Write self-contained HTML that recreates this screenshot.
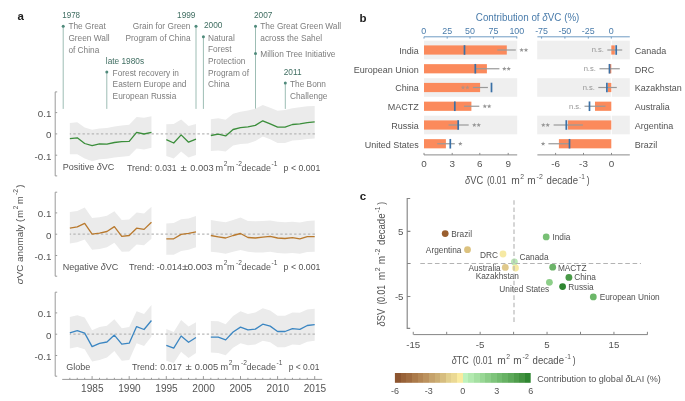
<!DOCTYPE html>
<html><head><meta charset="utf-8"><style>
html,body{margin:0;padding:0;background:#fff;overflow:hidden;}
svg{display:block;font-family:"Liberation Sans", sans-serif;will-change:transform;}
</style></head><body>
<svg width="685" height="401" viewBox="0 0 685 401">
<rect width="685" height="401" fill="#fff"/>
<text x="17.6" y="20.4" font-size="11.5" fill="#222" font-weight="bold">a</text>
<line x1="63.2" y1="26.2" x2="63.2" y2="108.9" stroke="#9dbdb4" stroke-width="1"/>
<circle cx="63.2" cy="26.2" r="1.5" fill="#4f8a7b"/>
<line x1="106.8" y1="72.1" x2="106.8" y2="108.9" stroke="#9dbdb4" stroke-width="1"/>
<circle cx="106.8" cy="72.1" r="1.5" fill="#4f8a7b"/>
<line x1="196.0" y1="26.3" x2="196.0" y2="108.9" stroke="#9dbdb4" stroke-width="1"/>
<circle cx="196.0" cy="26.3" r="1.5" fill="#4f8a7b"/>
<line x1="203.4" y1="36.8" x2="203.4" y2="108.9" stroke="#9dbdb4" stroke-width="1"/>
<circle cx="203.4" cy="36.8" r="1.5" fill="#4f8a7b"/>
<line x1="255.5" y1="26.3" x2="255.5" y2="108.9" stroke="#9dbdb4" stroke-width="1"/>
<circle cx="255.5" cy="26.3" r="1.5" fill="#4f8a7b"/>
<line x1="285.3" y1="82.9" x2="285.3" y2="108.9" stroke="#9dbdb4" stroke-width="1"/>
<circle cx="285.3" cy="82.9" r="1.5" fill="#4f8a7b"/>
<circle cx="255.5" cy="53.4" r="1.5" fill="#4f8a7b"/>
<text x="62.2" y="17.7" font-size="8.3" fill="#3f6d61" textLength="17.9" lengthAdjust="spacingAndGlyphs">1978</text>
<text x="68.4" y="29.4" font-size="8.3" fill="#7d7d7d">The Great</text>
<text x="68.4" y="41.1" font-size="8.3" fill="#7d7d7d">Green Wall</text>
<text x="68.4" y="52.8" font-size="8.3" fill="#7d7d7d">of China</text>
<text x="105.8" y="64.2" font-size="8.3" fill="#3f6d61">late 1980s</text>
<text x="112.6" y="75.7" font-size="8.3" fill="#7d7d7d">Forest recovery in</text>
<text x="112.6" y="87.4" font-size="8.3" fill="#7d7d7d">Eastern Europe and</text>
<text x="112.6" y="99.1" font-size="8.3" fill="#7d7d7d">European Russia</text>
<text x="195.5" y="17.7" font-size="8.3" fill="#3f6d61" text-anchor="end">1999</text>
<text x="190.5" y="29.4" font-size="8.3" fill="#7d7d7d" text-anchor="end">Grain for Green</text>
<text x="190.5" y="41.1" font-size="8.3" fill="#7d7d7d" text-anchor="end">Program of China</text>
<text x="204" y="28.2" font-size="8.3" fill="#3f6d61">2000</text>
<text x="208" y="40.5" font-size="8.3" fill="#7d7d7d">Natural</text>
<text x="208" y="52.2" font-size="8.3" fill="#7d7d7d">Forest</text>
<text x="208" y="63.9" font-size="8.3" fill="#7d7d7d">Protection</text>
<text x="208" y="75.6" font-size="8.3" fill="#7d7d7d">Program of</text>
<text x="208" y="87.3" font-size="8.3" fill="#7d7d7d">China</text>
<text x="254" y="17.7" font-size="8.3" fill="#3f6d61">2007</text>
<text x="260.3" y="29.4" font-size="8.3" fill="#7d7d7d">The Great Green Wall</text>
<text x="260.3" y="41.1" font-size="8.3" fill="#7d7d7d">across the Sahel</text>
<text x="260.3" y="56.9" font-size="8.3" fill="#7d7d7d">Million Tree Initiative</text>
<text x="283.7" y="74.7" font-size="8.3" fill="#3f6d61">2011</text>
<text x="290" y="86.8" font-size="8.3" fill="#7d7d7d">The Bonn</text>
<text x="290" y="98.5" font-size="8.3" fill="#7d7d7d">Challenge</text>
<polygon points="69.84,123 77.26,122.2 84.68,127.6 92.1,129.7 99.52,128.4 106.94,127.9 114.36,126.4 121.78,125.6 129.2,124.8 136.62,117 144.04,117.8 151.46,116.2 151.46,147.8 144.04,149.5 136.62,148.6 129.2,156 121.78,156.8 114.36,157.6 106.94,158.7 99.52,159.2 92.1,161.3 84.68,158.4 77.26,154.3 69.84,154.3" fill="#ebebeb"/>
<polygon points="166.3,124.3 173.72,124 181.14,119.5 188.56,126 195.98,124 195.98,155.1 188.56,157.6 181.14,151.6 173.72,158.4 166.3,155.9" fill="#ebebeb"/>
<polygon points="210.82,119.2 218.24,118.3 225.66,119.8 233.08,113.8 240.5,111.7 247.92,110.6 255.34,108.7 262.76,104.9 270.18,107.7 277.6,110.7 285.02,110.1 292.44,108.2 299.86,107.3 307.28,106.3 314.7,105.9 314.7,138.4 307.28,139.1 299.86,139.9 292.44,140.6 285.02,142.9 277.6,142.9 270.18,139.3 262.76,136.6 255.34,141.1 247.92,143.4 240.5,144.1 233.08,145.6 225.66,151.6 218.24,150.6 210.82,150.9" fill="#ebebeb"/>
<line x1="69.8" y1="133.9" x2="315.5" y2="133.9" stroke="#b8b8b8" stroke-width="1.2" stroke-dasharray="2.4 2.2" stroke-dashoffset="1.1"/>
<polyline points="69.84,138.6 77.26,137.8 84.68,143.5 92.1,145.7 99.52,143.8 106.94,144.1 114.36,142.5 121.78,141.7 129.2,141.3 136.62,132.4 144.04,134 151.46,132.4" fill="none" stroke="#3b8e3b" stroke-width="1.3" stroke-linejoin="round"/>
<polyline points="166.3,139.7 173.72,143 181.14,134.9 188.56,142.2 195.98,139.2" fill="none" stroke="#3b8e3b" stroke-width="1.3" stroke-linejoin="round"/>
<polyline points="210.82,135.5 218.24,134.1 225.66,135.9 233.08,129.5 240.5,127.7 247.92,126.9 255.34,125.4 262.76,120.8 270.18,123.9 277.6,127.2 285.02,127.2 292.44,124.5 299.86,123.9 307.28,122.7 314.7,121.9" fill="none" stroke="#3b8e3b" stroke-width="1.3" stroke-linejoin="round"/>
<path d="M57.2,91.9 H55.2 V175.9 H57.2 M55.2,112.6 H57.2 M55.2,133.9 H57.2 M55.2,155.2 H57.2" fill="none" stroke="#9a9a9a" stroke-width="1"/>
<text x="51.4" y="117" font-size="9.8" fill="#535353" text-anchor="end">0.1</text>
<text x="51.4" y="138.3" font-size="9.8" fill="#535353" text-anchor="end">0</text>
<text x="51.4" y="159.6" font-size="9.8" fill="#535353" text-anchor="end">-0.1</text>
<polygon points="69.84,212 77.26,210.9 84.68,207.6 92.1,218 99.52,217.2 106.94,215.8 114.36,211.2 121.78,220.1 129.2,219.6 136.62,212.4 144.04,213.6 151.46,206.7 151.46,238.8 144.04,245.3 136.62,244.5 129.2,251.4 121.78,251.8 114.36,242.8 106.94,247.2 99.52,249 92.1,249.8 84.68,239.6 77.26,242.3 69.84,243.6" fill="#ebebeb"/>
<polygon points="166.3,223.4 173.72,222.9 181.14,219.3 188.56,218.5 195.98,216.1 195.98,247.2 188.56,249.8 181.14,250.9 173.72,254.7 166.3,254.7" fill="#ebebeb"/>
<polygon points="210.82,220.1 218.24,221.3 225.66,222.2 233.08,220.1 240.5,217.5 247.92,220.9 255.34,221.3 262.76,220.9 270.18,220.5 277.6,221.8 285.02,222.2 292.44,221.8 299.86,222.6 307.28,220.9 314.7,220.6 314.7,251.8 307.28,252.1 299.86,253.7 292.44,253 285.02,253.4 277.6,253 270.18,251.8 262.76,252.6 255.34,252.6 247.92,251.8 240.5,250 233.08,251.8 225.66,253.7 218.24,252.6 210.82,251.8" fill="#ebebeb"/>
<line x1="69.8" y1="234.2" x2="315.5" y2="234.2" stroke="#b8b8b8" stroke-width="1.2" stroke-dasharray="2.4 2.2" stroke-dashoffset="1.1"/>
<polyline points="69.84,228.2 77.26,226.9 84.68,223.4 92.1,234.2 99.52,233.1 106.94,231.5 114.36,226.6 121.78,236.3 129.2,235.5 136.62,228.2 144.04,229.4 151.46,222.2" fill="none" stroke="#b9792d" stroke-width="1.3" stroke-linejoin="round"/>
<polyline points="166.3,238.8 173.72,238.8 181.14,234.4 188.56,233.4 195.98,231.8" fill="none" stroke="#b9792d" stroke-width="1.3" stroke-linejoin="round"/>
<polyline points="210.82,235.5 218.24,236.8 225.66,238 233.08,235.5 240.5,233.5 247.92,237.5 255.34,238 262.76,237.2 270.18,236.3 277.6,238 285.02,238.5 292.44,237.6 299.86,238.8 307.28,236.7 314.7,236.7" fill="none" stroke="#b9792d" stroke-width="1.3" stroke-linejoin="round"/>
<path d="M57.2,192.2 H55.2 V276.2 H57.2 M55.2,212.9 H57.2 M55.2,234.2 H57.2 M55.2,255.5 H57.2" fill="none" stroke="#9a9a9a" stroke-width="1"/>
<text x="51.4" y="217.3" font-size="9.8" fill="#535353" text-anchor="end">0.1</text>
<text x="51.4" y="238.6" font-size="9.8" fill="#535353" text-anchor="end">0</text>
<text x="51.4" y="259.9" font-size="9.8" fill="#535353" text-anchor="end">-0.1</text>
<polygon points="69.84,316.9 77.26,315.3 84.68,317.4 92.1,330.3 99.52,327.1 106.94,325.8 114.36,319.3 121.78,328.2 129.2,327.1 136.62,311.2 144.04,314.1 151.46,305.1 151.46,336.4 144.04,346.1 136.62,343.3 129.2,359.9 121.78,360.7 114.36,350.9 106.94,357.4 99.52,359.9 92.1,361.5 84.68,349.3 77.26,346.9 69.84,348.5" fill="#ebebeb"/>
<polygon points="166.3,329 173.72,332 181.14,320.1 188.56,326.6 195.98,322.2 195.98,353 188.56,357.9 181.14,351.8 173.72,363.1 166.3,360.7" fill="#ebebeb"/>
<polygon points="210.82,321 218.24,321.3 225.66,324.2 233.08,316.1 240.5,311.2 247.92,314.1 255.34,312.5 262.76,308.3 270.18,310.4 277.6,315.8 285.02,315.8 292.44,312.5 299.86,312.8 307.28,309.6 314.7,308.8 314.7,340.7 307.28,341.7 299.86,344.9 292.44,344.5 285.02,347.2 277.6,347.2 270.18,342.3 262.76,340.7 255.34,344.5 247.92,345.3 240.5,343.3 233.08,347.7 225.66,355.3 218.24,353 210.82,352.6" fill="#ebebeb"/>
<line x1="69.8" y1="334.2" x2="315.5" y2="334.2" stroke="#b8b8b8" stroke-width="1.2" stroke-dasharray="2.4 2.2" stroke-dashoffset="1.1"/>
<polyline points="69.84,332.8 77.26,330.7 84.68,333.1 92.1,346.6 99.52,343.3 106.94,342 114.36,335.1 121.78,344.1 129.2,343.2 136.62,326.6 144.04,329.5 151.46,320.5" fill="none" stroke="#3b86c2" stroke-width="1.3" stroke-linejoin="round"/>
<polyline points="166.3,345.3 173.72,348.2 181.14,336 188.56,342.3 195.98,337.5" fill="none" stroke="#3b86c2" stroke-width="1.3" stroke-linejoin="round"/>
<polyline points="210.82,337.2 218.24,337.2 225.66,339.9 233.08,332 240.5,327.1 247.92,329.9 255.34,329.1 262.76,324.2 270.18,326.1 277.6,331.5 285.02,331.5 292.44,328.6 299.86,329.4 307.28,325.5 314.7,324.7" fill="none" stroke="#3b86c2" stroke-width="1.3" stroke-linejoin="round"/>
<path d="M57.2,292.2 H55.2 V376.2 H57.2 M55.2,312.9 H57.2 M55.2,334.2 H57.2 M55.2,355.5 H57.2" fill="none" stroke="#9a9a9a" stroke-width="1"/>
<text x="51.4" y="317.3" font-size="9.8" fill="#535353" text-anchor="end">0.1</text>
<text x="51.4" y="338.6" font-size="9.8" fill="#535353" text-anchor="end">0</text>
<text x="51.4" y="359.9" font-size="9.8" fill="#535353" text-anchor="end">-0.1</text>
<text x="62.8" y="170.2" font-size="9" fill="#535353">Positive <tspan font-style="italic">δ</tspan>VC</text>
<text x="126.9" y="170.5" font-size="9.2" fill="#535353" textLength="25.3" lengthAdjust="spacingAndGlyphs">Trend:</text>
<text x="155" y="170.5" font-size="9.2" fill="#535353" textLength="21.4" lengthAdjust="spacingAndGlyphs">0.031</text>
<text x="180.5" y="170.5" font-size="9.2" fill="#535353" textLength="6.2" lengthAdjust="spacingAndGlyphs">±</text>
<text x="190.2" y="170.5" font-size="9.2" fill="#535353" textLength="23.4" lengthAdjust="spacingAndGlyphs">0.003</text>
<text x="215.6" y="170.5" font-size="9.2" fill="#535353" textLength="7.6" lengthAdjust="spacingAndGlyphs">m</text>
<text x="223.8" y="165.5" font-size="6.6" fill="#535353">2</text>
<text x="226.9" y="170.5" font-size="9.2" fill="#535353" textLength="7.6" lengthAdjust="spacingAndGlyphs">m</text>
<text x="236.1" y="165.5" font-size="6.6" fill="#535353">-2</text>
<text x="241.5" y="170.5" font-size="9.2" fill="#535353" textLength="29.4" lengthAdjust="spacingAndGlyphs">decade</text>
<text x="271.6" y="165.5" font-size="6.6" fill="#535353">-1</text>
<text x="283.6" y="170.5" font-size="9.2" fill="#535353" textLength="36.7" lengthAdjust="spacingAndGlyphs">p &lt; 0.001</text>
<text x="62.7" y="270.3" font-size="9" fill="#535353">Negative <tspan font-style="italic">δ</tspan>VC</text>
<text x="128.9" y="270.4" font-size="9.2" fill="#535353" textLength="25.3" lengthAdjust="spacingAndGlyphs">Trend:</text>
<text x="156.8" y="270.4" font-size="9.2" fill="#535353" textLength="25" lengthAdjust="spacingAndGlyphs">-0.014</text>
<text x="182" y="270.4" font-size="9.2" fill="#535353" textLength="6.2" lengthAdjust="spacingAndGlyphs">±</text>
<text x="187.4" y="270.4" font-size="9.2" fill="#535353" textLength="25" lengthAdjust="spacingAndGlyphs">0.003</text>
<text x="215.6" y="270.4" font-size="9.2" fill="#535353" textLength="7.6" lengthAdjust="spacingAndGlyphs">m</text>
<text x="223.8" y="265.4" font-size="6.6" fill="#535353">2</text>
<text x="226.9" y="270.4" font-size="9.2" fill="#535353" textLength="7.6" lengthAdjust="spacingAndGlyphs">m</text>
<text x="236.1" y="265.4" font-size="6.6" fill="#535353">-2</text>
<text x="241.5" y="270.4" font-size="9.2" fill="#535353" textLength="29.4" lengthAdjust="spacingAndGlyphs">decade</text>
<text x="271.6" y="265.4" font-size="6.6" fill="#535353">-1</text>
<text x="283.6" y="270.4" font-size="9.2" fill="#535353" textLength="36.8" lengthAdjust="spacingAndGlyphs">p &lt; 0.001</text>
<text x="66.3" y="370.2" font-size="9" fill="#535353">Globe</text>
<text x="131.9" y="370.4" font-size="9.2" fill="#535353" textLength="25.3" lengthAdjust="spacingAndGlyphs">Trend:</text>
<text x="160.3" y="370.4" font-size="9.2" fill="#535353" textLength="21.6" lengthAdjust="spacingAndGlyphs">0.017</text>
<text x="185.5" y="370.4" font-size="9.2" fill="#535353" textLength="6.2" lengthAdjust="spacingAndGlyphs">±</text>
<text x="194.7" y="370.4" font-size="9.2" fill="#535353" textLength="23.4" lengthAdjust="spacingAndGlyphs">0.005</text>
<text x="220.6" y="370.4" font-size="9.2" fill="#535353" textLength="7.6" lengthAdjust="spacingAndGlyphs">m</text>
<text x="228.8" y="365.4" font-size="6.6" fill="#535353">2</text>
<text x="231.9" y="370.4" font-size="9.2" fill="#535353" textLength="7.6" lengthAdjust="spacingAndGlyphs">m</text>
<text x="241.1" y="365.4" font-size="6.6" fill="#535353">-2</text>
<text x="246.5" y="370.4" font-size="9.2" fill="#535353" textLength="29.4" lengthAdjust="spacingAndGlyphs">decade</text>
<text x="276.6" y="365.4" font-size="6.6" fill="#535353">-1</text>
<text x="288.7" y="370.4" font-size="9.2" fill="#535353" textLength="30.8" lengthAdjust="spacingAndGlyphs">p &lt; 0.01</text>
<path d="M62.2,379.4 H322.2 M69.84,379.4 V377.8 M77.26,379.4 V377.8 M84.68,379.4 V377.8 M92.1,379.4 V376.1 M99.52,379.4 V377.8 M106.94,379.4 V377.8 M114.36,379.4 V377.8 M121.78,379.4 V377.8 M129.2,379.4 V376.1 M136.62,379.4 V377.8 M144.04,379.4 V377.8 M151.46,379.4 V377.8 M158.88,379.4 V377.8 M166.3,379.4 V376.1 M173.72,379.4 V377.8 M181.14,379.4 V377.8 M188.56,379.4 V377.8 M195.98,379.4 V377.8 M203.4,379.4 V376.1 M210.82,379.4 V377.8 M218.24,379.4 V377.8 M225.66,379.4 V377.8 M233.08,379.4 V377.8 M240.5,379.4 V376.1 M247.92,379.4 V377.8 M255.34,379.4 V377.8 M262.76,379.4 V377.8 M270.18,379.4 V377.8 M277.6,379.4 V376.1 M285.02,379.4 V377.8 M292.44,379.4 V377.8 M299.86,379.4 V377.8 M307.28,379.4 V377.8 M314.7,379.4 V376.1" fill="none" stroke="#9a9a9a" stroke-width="1"/>
<text x="92.3" y="391.7" font-size="10.1" fill="#535353" text-anchor="middle">1985</text>
<text x="129.4" y="391.7" font-size="10.1" fill="#535353" text-anchor="middle">1990</text>
<text x="166.5" y="391.7" font-size="10.1" fill="#535353" text-anchor="middle">1995</text>
<text x="203.6" y="391.7" font-size="10.1" fill="#535353" text-anchor="middle">2000</text>
<text x="240.7" y="391.7" font-size="10.1" fill="#535353" text-anchor="middle">2005</text>
<text x="277.8" y="391.7" font-size="10.1" fill="#535353" text-anchor="middle">2010</text>
<text x="314.9" y="391.7" font-size="10.1" fill="#535353" text-anchor="middle">2015</text>
<g transform="translate(23.2,284.3) rotate(-90)"><text x="0" y="0" font-size="9.8" fill="#535353" textLength="59.6" lengthAdjust="spacingAndGlyphs"><tspan font-style="italic">σ</tspan>VC anomaly</text><text x="62.3" y="0" font-size="9.8" fill="#535353" textLength="3.2" lengthAdjust="spacingAndGlyphs">(</text><text x="66.6" y="0" font-size="9.8" fill="#535353" textLength="7.6" lengthAdjust="spacingAndGlyphs">m</text><text x="75.1" y="-4.8" font-size="6.6" fill="#535353" textLength="3.6" lengthAdjust="spacingAndGlyphs">2</text><text x="80.3" y="0" font-size="9.8" fill="#535353" textLength="7.6" lengthAdjust="spacingAndGlyphs">m</text><text x="89.2" y="-4.8" font-size="6.6" fill="#535353" textLength="6" lengthAdjust="spacingAndGlyphs">-2</text><text x="96.6" y="0" font-size="9.8" fill="#535353" textLength="3.2" lengthAdjust="spacingAndGlyphs">)</text></g>
<text x="359.4" y="21.6" font-size="11.5" fill="#222" font-weight="bold">b</text>
<rect x="424" y="40.7" width="93.2" height="18.6" fill="#efefef"/>
<rect x="537.2" y="40.7" width="92.6" height="18.6" fill="#efefef"/>
<rect x="424" y="78.2" width="93.2" height="18.6" fill="#efefef"/>
<rect x="537.2" y="78.2" width="92.6" height="18.6" fill="#efefef"/>
<rect x="424" y="115.7" width="93.2" height="18.6" fill="#efefef"/>
<rect x="537.2" y="115.7" width="92.6" height="18.6" fill="#efefef"/>
<line x1="611.3" y1="40" x2="611.3" y2="153" stroke="#fff" stroke-width="1"/>
<rect x="424" y="45.4" width="82.8" height="9.2" fill="#fb8a5c"/>
<line x1="497.3" y1="50" x2="515.8" y2="50" stroke="#999999" stroke-width="1.2"/>
<line x1="464.5" y1="45.2" x2="464.5" y2="54.8" stroke="#3a70a6" stroke-width="1.7"/>
<text x="418.8" y="53.9" font-size="9.7" fill="#535353" text-anchor="end" textLength="19.52" lengthAdjust="spacingAndGlyphs">India</text>
<polygon points="521.6,47.75 522.19,49.29 523.83,49.37 522.55,50.41 522.98,52 521.6,51.1 520.22,52 520.65,50.41 519.37,49.37 521.01,49.29" fill="#959595"/>
<polygon points="526,47.75 526.59,49.29 528.23,49.37 526.95,50.41 527.38,52 526,51.1 524.62,52 525.05,50.41 523.77,49.37 525.41,49.29" fill="#959595"/>
<rect x="424" y="64.15" width="62.9" height="9.2" fill="#fb8a5c"/>
<line x1="475.3" y1="68.75" x2="499.4" y2="68.75" stroke="#999999" stroke-width="1.2"/>
<line x1="475.3" y1="63.95" x2="475.3" y2="73.55" stroke="#3a70a6" stroke-width="1.7"/>
<text x="418.8" y="72.65" font-size="9.7" fill="#535353" text-anchor="end" textLength="65.05" lengthAdjust="spacingAndGlyphs">European Union</text>
<polygon points="504.3,66.5 504.89,68.04 506.53,68.12 505.25,69.16 505.68,70.75 504.3,69.85 502.92,70.75 503.35,69.16 502.07,68.12 503.71,68.04" fill="#959595"/>
<polygon points="508.7,66.5 509.29,68.04 510.93,68.12 509.65,69.16 510.08,70.75 508.7,69.85 507.32,70.75 507.75,69.16 506.47,68.12 508.11,68.04" fill="#959595"/>
<rect x="424" y="82.9" width="56.1" height="9.2" fill="#fb8a5c"/>
<line x1="472.9" y1="87.5" x2="487.9" y2="87.5" stroke="#999999" stroke-width="1.2"/>
<line x1="491.5" y1="82.7" x2="491.5" y2="92.3" stroke="#3a70a6" stroke-width="1.7"/>
<text x="418.8" y="91.4" font-size="9.7" fill="#535353" text-anchor="end" textLength="23.52" lengthAdjust="spacingAndGlyphs">China</text>
<polygon points="463,85.25 463.59,86.79 465.23,86.87 463.95,87.91 464.38,89.5 463,88.6 461.62,89.5 462.05,87.91 460.77,86.87 462.41,86.79" fill="#b99080"/>
<polygon points="467.4,85.25 467.99,86.79 469.63,86.87 468.35,87.91 468.78,89.5 467.4,88.6 466.02,89.5 466.45,87.91 465.17,86.87 466.81,86.79" fill="#b99080"/>
<rect x="424" y="101.65" width="47.4" height="9.2" fill="#fb8a5c"/>
<line x1="464.0" y1="106.25" x2="479.3" y2="106.25" stroke="#999999" stroke-width="1.2"/>
<line x1="454.8" y1="101.45" x2="454.8" y2="111.05" stroke="#3a70a6" stroke-width="1.7"/>
<text x="418.8" y="110.15" font-size="9.7" fill="#535353" text-anchor="end" textLength="30.99" lengthAdjust="spacingAndGlyphs">MACTZ</text>
<polygon points="484.8,104 485.39,105.54 487.03,105.62 485.75,106.66 486.18,108.25 484.8,107.35 483.42,108.25 483.85,106.66 482.57,105.62 484.21,105.54" fill="#959595"/>
<polygon points="489.2,104 489.79,105.54 491.43,105.62 490.15,106.66 490.58,108.25 489.2,107.35 487.82,108.25 488.25,106.66 486.97,105.62 488.61,105.54" fill="#959595"/>
<rect x="424" y="120.4" width="34.2" height="9.2" fill="#fb8a5c"/>
<line x1="448.5" y1="125" x2="468.7" y2="125" stroke="#999999" stroke-width="1.2"/>
<line x1="458.2" y1="120.2" x2="458.2" y2="129.8" stroke="#3a70a6" stroke-width="1.7"/>
<text x="418.8" y="128.9" font-size="9.7" fill="#535353" text-anchor="end" textLength="27.51" lengthAdjust="spacingAndGlyphs">Russia</text>
<polygon points="474.3,122.75 474.89,124.29 476.53,124.37 475.25,125.41 475.68,127 474.3,126.1 472.92,127 473.35,125.41 472.07,124.37 473.71,124.29" fill="#959595"/>
<polygon points="478.7,122.75 479.29,124.29 480.93,124.37 479.65,125.41 480.08,127 478.7,126.1 477.32,127 477.75,125.41 476.47,124.37 478.11,124.29" fill="#959595"/>
<rect x="424" y="139.15" width="21.9" height="9.2" fill="#fb8a5c"/>
<line x1="437.2" y1="143.75" x2="454.8" y2="143.75" stroke="#999999" stroke-width="1.2"/>
<line x1="450.3" y1="138.95" x2="450.3" y2="148.55" stroke="#3a70a6" stroke-width="1.7"/>
<text x="418.8" y="147.65" font-size="9.7" fill="#535353" text-anchor="end" textLength="54.03" lengthAdjust="spacingAndGlyphs">United States</text>
<polygon points="460.3,141.5 460.89,143.04 462.53,143.12 461.25,144.16 461.68,145.75 460.3,144.85 458.92,145.75 459.35,144.16 458.07,143.12 459.71,143.04" fill="#959595"/>
<rect x="611.3" y="45.4" width="3.5" height="9.2" fill="#fb8a5c"/>
<line x1="607.3" y1="50" x2="622.2" y2="50" stroke="#999999" stroke-width="1.2"/>
<line x1="616.2" y1="45.2" x2="616.2" y2="54.8" stroke="#3a70a6" stroke-width="1.7"/>
<text x="634.8" y="53.9" font-size="9.7" fill="#535353" textLength="31.53" lengthAdjust="spacingAndGlyphs">Canada</text>
<text x="603.9" y="52.4" font-size="7.6" fill="#959595" text-anchor="end">n.s.</text>
<rect x="608.9" y="64.15" width="2.4" height="9.2" fill="#fb8a5c"/>
<line x1="599.5" y1="68.75" x2="619.8" y2="68.75" stroke="#999999" stroke-width="1.2"/>
<line x1="609.5" y1="63.95" x2="609.5" y2="73.55" stroke="#3a70a6" stroke-width="1.7"/>
<text x="634.8" y="72.65" font-size="9.7" fill="#535353" textLength="19.5" lengthAdjust="spacingAndGlyphs">DRC</text>
<text x="595.9" y="71.15" font-size="7.6" fill="#959595" text-anchor="end">n.s.</text>
<rect x="607.9" y="82.9" width="3.4" height="9.2" fill="#fb8a5c"/>
<line x1="598.3" y1="87.5" x2="616.8" y2="87.5" stroke="#999999" stroke-width="1.2"/>
<line x1="606.9" y1="82.7" x2="606.9" y2="92.3" stroke="#3a70a6" stroke-width="1.7"/>
<text x="634.8" y="91.4" font-size="9.7" fill="#535353" textLength="47.03" lengthAdjust="spacingAndGlyphs">Kazakhstan</text>
<text x="594.9" y="89.9" font-size="7.6" fill="#959595" text-anchor="end">n.s.</text>
<rect x="595" y="101.65" width="16.3" height="9.2" fill="#fb8a5c"/>
<line x1="584.5" y1="106.25" x2="605.5" y2="106.25" stroke="#999999" stroke-width="1.2"/>
<line x1="589.5" y1="101.45" x2="589.5" y2="111.05" stroke="#3a70a6" stroke-width="1.7"/>
<text x="634.8" y="110.15" font-size="9.7" fill="#535353" textLength="35.02" lengthAdjust="spacingAndGlyphs">Australia</text>
<text x="581.2" y="108.65" font-size="7.6" fill="#959595" text-anchor="end">n.s.</text>
<rect x="567.9" y="120.4" width="43.4" height="9.2" fill="#fb8a5c"/>
<line x1="553.6" y1="125" x2="582.9" y2="125" stroke="#999999" stroke-width="1.2"/>
<line x1="566.3" y1="120.2" x2="566.3" y2="129.8" stroke="#3a70a6" stroke-width="1.7"/>
<text x="634.8" y="128.9" font-size="9.7" fill="#535353" textLength="38.53" lengthAdjust="spacingAndGlyphs">Argentina</text>
<polygon points="543.3,122.75 543.89,124.29 545.53,124.37 544.25,125.41 544.68,127 543.3,126.1 541.92,127 542.35,125.41 541.07,124.37 542.71,124.29" fill="#959595"/>
<polygon points="547.7,122.75 548.29,124.29 549.93,124.37 548.65,125.41 549.08,127 547.7,126.1 546.32,127 546.75,125.41 545.47,124.37 547.11,124.29" fill="#959595"/>
<rect x="558.9" y="139.15" width="52.4" height="9.2" fill="#fb8a5c"/>
<line x1="548.4" y1="143.75" x2="569.5" y2="143.75" stroke="#999999" stroke-width="1.2"/>
<line x1="569.5" y1="138.95" x2="569.5" y2="148.55" stroke="#3a70a6" stroke-width="1.7"/>
<text x="634.8" y="147.65" font-size="9.7" fill="#535353" textLength="22.5" lengthAdjust="spacingAndGlyphs">Brazil</text>
<polygon points="543.1,141.5 543.69,143.04 545.33,143.12 544.05,144.16 544.48,145.75 543.1,144.85 541.72,145.75 542.15,144.16 540.87,143.12 542.51,143.04" fill="#959595"/>
<path d="M424,38.6 V36.8 H517.2 M447.2,36.8 V38.6 M470,36.8 V38.6 M493.4,36.8 V38.6 M516.8,36.8 V38.6" fill="none" stroke="#6f9cc4" stroke-width="1"/>
<path d="M537.4,36.8 H629.8 M541.6,36.8 V38.6 M564.9,36.8 V38.6 M588.3,36.8 V38.6 M611.3,36.8 V38.6" fill="none" stroke="#6f9cc4" stroke-width="1"/>
<text x="423.8" y="33.9" font-size="9.8" fill="#4a7cab" text-anchor="middle" textLength="4.95" lengthAdjust="spacingAndGlyphs">0</text>
<text x="447.2" y="33.9" font-size="9.8" fill="#4a7cab" text-anchor="middle" textLength="9.9" lengthAdjust="spacingAndGlyphs">25</text>
<text x="470" y="33.9" font-size="9.8" fill="#4a7cab" text-anchor="middle" textLength="9.9" lengthAdjust="spacingAndGlyphs">50</text>
<text x="493.4" y="33.9" font-size="9.8" fill="#4a7cab" text-anchor="middle" textLength="9.9" lengthAdjust="spacingAndGlyphs">75</text>
<text x="516.8" y="33.9" font-size="9.8" fill="#4a7cab" text-anchor="middle" textLength="14.85" lengthAdjust="spacingAndGlyphs">100</text>
<text x="541.6" y="33.9" font-size="9.8" fill="#4a7cab" text-anchor="middle" textLength="12.86" lengthAdjust="spacingAndGlyphs">-75</text>
<text x="564.9" y="33.9" font-size="9.8" fill="#4a7cab" text-anchor="middle" textLength="12.86" lengthAdjust="spacingAndGlyphs">-50</text>
<text x="588.3" y="33.9" font-size="9.8" fill="#4a7cab" text-anchor="middle" textLength="12.86" lengthAdjust="spacingAndGlyphs">-25</text>
<text x="611.3" y="33.9" font-size="9.8" fill="#4a7cab" text-anchor="middle" textLength="4.95" lengthAdjust="spacingAndGlyphs">0</text>
<text x="475.8" y="20.6" font-size="10.4" fill="#4a7cab" textLength="103.6" lengthAdjust="spacingAndGlyphs">Contribution of <tspan font-style="italic">δ</tspan>VC (%)</text>
<path d="M424,152.9 V154.9 H517.2 M452.2,154.9 V152.9 M479.8,154.9 V152.9 M508.2,154.9 V152.9" fill="none" stroke="#8a8a8a" stroke-width="1"/>
<path d="M537.4,154.9 H629.8 M555.6,154.9 V152.9 M583.5,154.9 V152.9 M611.5,154.9 V152.9" fill="none" stroke="#8a8a8a" stroke-width="1"/>
<text x="424" y="167.3" font-size="9.9" fill="#535353" text-anchor="middle">0</text>
<text x="452.2" y="167.3" font-size="9.9" fill="#535353" text-anchor="middle">3</text>
<text x="479.8" y="167.3" font-size="9.9" fill="#535353" text-anchor="middle">6</text>
<text x="508.2" y="167.3" font-size="9.9" fill="#535353" text-anchor="middle">9</text>
<text x="555.6" y="167.3" font-size="9.9" fill="#535353" text-anchor="middle">-6</text>
<text x="583.5" y="167.3" font-size="9.9" fill="#535353" text-anchor="middle">-3</text>
<text x="611.5" y="167.3" font-size="9.9" fill="#535353" text-anchor="middle">0</text>
<text x="465.1" y="184" font-size="10.2" fill="#535353" textLength="18" lengthAdjust="spacingAndGlyphs"><tspan font-style="italic">δ</tspan>VC</text><text x="486.9" y="184" font-size="10.2" fill="#535353" textLength="19.5" lengthAdjust="spacingAndGlyphs">(0.01</text><text x="511.2" y="184" font-size="10.2" fill="#535353" textLength="8.5" lengthAdjust="spacingAndGlyphs">m</text><text x="520.3" y="179" font-size="7.2" fill="#535353" textLength="3.8" lengthAdjust="spacingAndGlyphs">2</text><text x="527.3" y="184" font-size="10.2" fill="#535353" textLength="8.4" lengthAdjust="spacingAndGlyphs">m</text><text x="536.6" y="179" font-size="7.2" fill="#535353" textLength="6.2" lengthAdjust="spacingAndGlyphs">-2</text><text x="546.6" y="184" font-size="10.2" fill="#535353" textLength="31.4" lengthAdjust="spacingAndGlyphs">decade</text><text x="579.1" y="179" font-size="7.2" fill="#535353" textLength="5.8" lengthAdjust="spacingAndGlyphs">-1</text><text x="586.8" y="184" font-size="10.2" fill="#535353" textLength="2.8" lengthAdjust="spacingAndGlyphs">)</text>
<text x="359.7" y="200" font-size="11.5" fill="#222" font-weight="bold">c</text>
<path d="M410.2,198.5 H407.2 V328.3 H410.2 M407.2,231.4 H410.4 M407.2,263.5 H410.6 M407.2,296.5 H410.4" fill="none" stroke="#858585" stroke-width="1.15"/>
<path d="M413.5,334.6 H647.6 M413.25,334.6 V331.8 M446.7,334.6 V331.8 M480.15,334.6 V331.8 M513.6,334.6 V331.8 M547.05,334.6 V331.8 M580.5,334.6 V331.8 M613.95,334.6 V331.8 M647.4,334.6 V331.8" fill="none" stroke="#858585" stroke-width="1"/>
<text x="403.5" y="234.8" font-size="9.7" fill="#535353" text-anchor="end">5</text>
<text x="403.5" y="299.9" font-size="9.7" fill="#535353" text-anchor="end">-5</text>
<text x="413.25" y="348.3" font-size="9.7" fill="#535353" text-anchor="middle">-15</text>
<text x="480.15" y="348.3" font-size="9.7" fill="#535353" text-anchor="middle">-5</text>
<text x="547.05" y="348.3" font-size="9.7" fill="#535353" text-anchor="middle">5</text>
<text x="613.95" y="348.3" font-size="9.7" fill="#535353" text-anchor="middle">15</text>
<text x="451.7" y="364" font-size="10.2" fill="#535353" textLength="17" lengthAdjust="spacingAndGlyphs"><tspan font-style="italic">δ</tspan>TC</text><text x="472.9" y="364" font-size="10.2" fill="#535353" textLength="19.5" lengthAdjust="spacingAndGlyphs">(0.01</text><text x="497.2" y="364" font-size="10.2" fill="#535353" textLength="8.5" lengthAdjust="spacingAndGlyphs">m</text><text x="506.3" y="359" font-size="7.2" fill="#535353" textLength="3.8" lengthAdjust="spacingAndGlyphs">2</text><text x="513.3" y="364" font-size="10.2" fill="#535353" textLength="8.4" lengthAdjust="spacingAndGlyphs">m</text><text x="522.6" y="359" font-size="7.2" fill="#535353" textLength="6.2" lengthAdjust="spacingAndGlyphs">-2</text><text x="532.6" y="364" font-size="10.2" fill="#535353" textLength="31.4" lengthAdjust="spacingAndGlyphs">decade</text><text x="565.1" y="359" font-size="7.2" fill="#535353" textLength="5.8" lengthAdjust="spacingAndGlyphs">-1</text><text x="572.8" y="364" font-size="10.2" fill="#535353" textLength="2.8" lengthAdjust="spacingAndGlyphs">)</text>
<g transform="translate(385.0,326.4) rotate(-90)"><text x="0" y="0" font-size="10.2" fill="#535353" textLength="17.6" lengthAdjust="spacingAndGlyphs"><tspan font-style="italic">δ</tspan>SV</text><text x="21.8" y="0" font-size="10.2" fill="#535353" textLength="19.5" lengthAdjust="spacingAndGlyphs">(0.01</text><text x="46.1" y="0" font-size="10.2" fill="#535353" textLength="8.5" lengthAdjust="spacingAndGlyphs">m</text><text x="55.2" y="-5" font-size="7.2" fill="#535353" textLength="3.8" lengthAdjust="spacingAndGlyphs">2</text><text x="62.2" y="0" font-size="10.2" fill="#535353" textLength="8.4" lengthAdjust="spacingAndGlyphs">m</text><text x="71.5" y="-5" font-size="7.2" fill="#535353" textLength="6.2" lengthAdjust="spacingAndGlyphs">-2</text><text x="81.5" y="0" font-size="10.2" fill="#535353" textLength="31.4" lengthAdjust="spacingAndGlyphs">decade</text><text x="114" y="-5" font-size="7.2" fill="#535353" textLength="5.8" lengthAdjust="spacingAndGlyphs">-1</text><text x="121.7" y="0" font-size="10.2" fill="#535353" textLength="2.8" lengthAdjust="spacingAndGlyphs">)</text></g>
<circle cx="445.2" cy="233.6" r="3.4" fill="#9a5f2f"/>
<circle cx="467.5" cy="249.7" r="3.4" fill="#dcc27f"/>
<circle cx="503.0" cy="254.0" r="3.4" fill="#f6e9a4"/>
<circle cx="514.4" cy="262.0" r="3.4" fill="#b9e9b5"/>
<circle cx="505.3" cy="267.4" r="3.4" fill="#e0c98b"/>
<circle cx="515.5" cy="268.0" r="3.4" fill="#f7e9a2"/>
<circle cx="546.2" cy="236.9" r="3.4" fill="#78c075"/>
<circle cx="552.7" cy="267.2" r="3.4" fill="#6cb469"/>
<circle cx="568.9" cy="277.4" r="3.4" fill="#4a9a48"/>
<circle cx="549.4" cy="282.3" r="3.4" fill="#8dcf89"/>
<circle cx="562.6" cy="286.6" r="3.4" fill="#2e8630"/>
<circle cx="593.3" cy="296.9" r="3.4" fill="#6cb769"/>
<text x="451.3" y="236.9" font-size="8.8" fill="#505050" textLength="20.75" lengthAdjust="spacingAndGlyphs">Brazil</text>
<text x="461.4" y="252.5" font-size="8.8" fill="#505050" text-anchor="end" textLength="35.53" lengthAdjust="spacingAndGlyphs">Argentina</text>
<text x="498.1" y="257.7" font-size="8.8" fill="#505050" text-anchor="end" textLength="17.98" lengthAdjust="spacingAndGlyphs">DRC</text>
<text x="519.5" y="260.4" font-size="8.8" fill="#505050" textLength="29.07" lengthAdjust="spacingAndGlyphs">Canada</text>
<text x="500.7" y="270.8" font-size="8.8" fill="#505050" text-anchor="end" textLength="32.29" lengthAdjust="spacingAndGlyphs">Australia</text>
<text x="519" y="279.4" font-size="8.8" fill="#505050" text-anchor="end" textLength="43.37" lengthAdjust="spacingAndGlyphs">Kazakhstan</text>
<text x="552.4" y="240" font-size="8.8" fill="#505050" textLength="18" lengthAdjust="spacingAndGlyphs">India</text>
<text x="557.9" y="270.8" font-size="8.8" fill="#505050" textLength="28.58" lengthAdjust="spacingAndGlyphs">MACTZ</text>
<text x="574.2" y="280.3" font-size="8.8" fill="#505050" textLength="21.69" lengthAdjust="spacingAndGlyphs">China</text>
<text x="549.2" y="292.3" font-size="8.8" fill="#505050" text-anchor="end" textLength="49.83" lengthAdjust="spacingAndGlyphs">United States</text>
<text x="568.3" y="290.1" font-size="8.8" fill="#505050" textLength="25.37" lengthAdjust="spacingAndGlyphs">Russia</text>
<text x="599.7" y="300.2" font-size="8.8" fill="#505050" textLength="59.99" lengthAdjust="spacingAndGlyphs">European Union</text>
<line x1="420.3" y1="263.5" x2="641" y2="263.5" stroke="#b3b3b3" stroke-width="1.1" stroke-dasharray="4.6 2.72"/>
<line x1="514" y1="200.2" x2="514" y2="322.5" stroke="#b3b3b3" stroke-width="1.1" stroke-dasharray="4.6 2.72"/>
<defs><linearGradient id="cb" x1="0" y1="0" x2="1" y2="0"><stop offset="0.00000" stop-color="#8d5530"/><stop offset="0.04167" stop-color="#8d5530"/><stop offset="0.04167" stop-color="#986238"/><stop offset="0.08333" stop-color="#986238"/><stop offset="0.08333" stop-color="#a06c40"/><stop offset="0.12500" stop-color="#a06c40"/><stop offset="0.12500" stop-color="#ab7a4a"/><stop offset="0.16667" stop-color="#ab7a4a"/><stop offset="0.16667" stop-color="#b48654"/><stop offset="0.20833" stop-color="#b48654"/><stop offset="0.20833" stop-color="#bc925e"/><stop offset="0.25000" stop-color="#bc925e"/><stop offset="0.25000" stop-color="#c5a26b"/><stop offset="0.29167" stop-color="#c5a26b"/><stop offset="0.29167" stop-color="#ccae74"/><stop offset="0.33333" stop-color="#ccae74"/><stop offset="0.33333" stop-color="#d6bd7f"/><stop offset="0.37500" stop-color="#d6bd7f"/><stop offset="0.37500" stop-color="#e2cf8d"/><stop offset="0.41667" stop-color="#e2cf8d"/><stop offset="0.41667" stop-color="#ebd994"/><stop offset="0.45833" stop-color="#ebd994"/><stop offset="0.45833" stop-color="#faeba0"/><stop offset="0.50000" stop-color="#faeba0"/><stop offset="0.50000" stop-color="#bff2bd"/><stop offset="0.54167" stop-color="#bff2bd"/><stop offset="0.54167" stop-color="#b2e9af"/><stop offset="0.58333" stop-color="#b2e9af"/><stop offset="0.58333" stop-color="#a5e0a2"/><stop offset="0.62500" stop-color="#a5e0a2"/><stop offset="0.62500" stop-color="#98d795"/><stop offset="0.66667" stop-color="#98d795"/><stop offset="0.66667" stop-color="#8bcd88"/><stop offset="0.70833" stop-color="#8bcd88"/><stop offset="0.70833" stop-color="#7ec47b"/><stop offset="0.75000" stop-color="#7ec47b"/><stop offset="0.75000" stop-color="#72bb6f"/><stop offset="0.79167" stop-color="#72bb6f"/><stop offset="0.79167" stop-color="#67b264"/><stop offset="0.83333" stop-color="#67b264"/><stop offset="0.83333" stop-color="#5ca859"/><stop offset="0.87500" stop-color="#5ca859"/><stop offset="0.87500" stop-color="#4f9d4c"/><stop offset="0.91667" stop-color="#4f9d4c"/><stop offset="0.91667" stop-color="#429240"/><stop offset="0.95833" stop-color="#429240"/><stop offset="0.95833" stop-color="#2f8631"/><stop offset="1.00000" stop-color="#2f8631"/></linearGradient></defs>
<rect x="394.9" y="373" width="135.8" height="9.8" fill="url(#cb)"/>
<text x="394.9" y="394.3" font-size="9" fill="#535353" text-anchor="middle">-6</text>
<text x="428.85" y="394.3" font-size="9" fill="#535353" text-anchor="middle">-3</text>
<text x="462.8" y="394.3" font-size="9" fill="#535353" text-anchor="middle">0</text>
<text x="496.75" y="394.3" font-size="9" fill="#535353" text-anchor="middle">3</text>
<text x="530.7" y="394.3" font-size="9" fill="#535353" text-anchor="middle">6</text>
<text x="537.2" y="381.7" font-size="9.2" fill="#535353" textLength="123.6" lengthAdjust="spacingAndGlyphs">Contribution to global <tspan font-style="italic">δ</tspan>LAI (%)</text>
</svg></body></html>
